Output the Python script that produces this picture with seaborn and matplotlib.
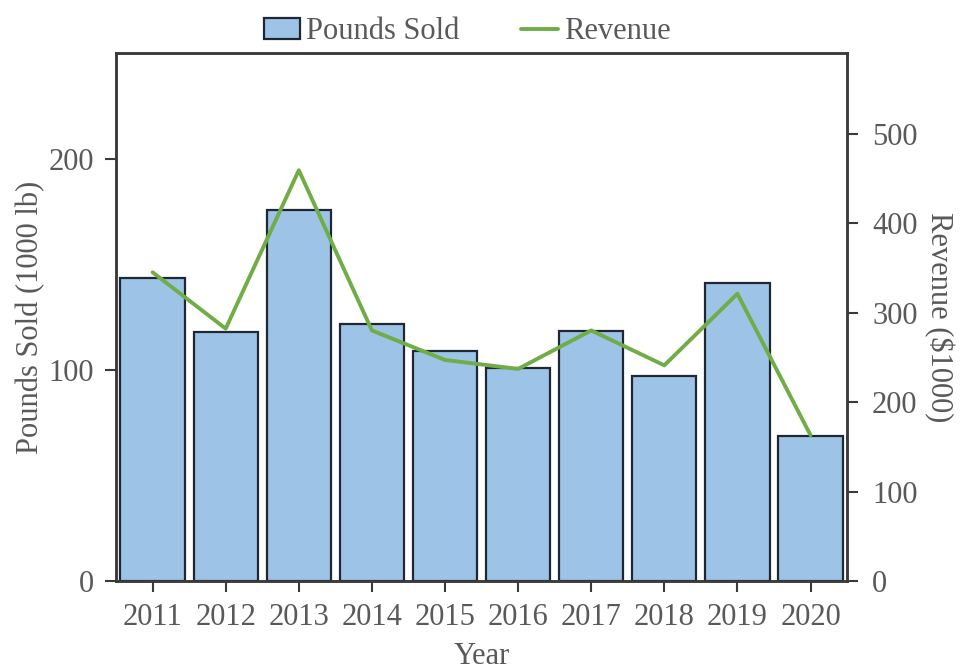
import matplotlib
matplotlib.use("Agg")
import matplotlib.pyplot as plt
import seaborn as sns
import pandas as pd
from matplotlib.patches import Patch
from matplotlib.lines import Line2D

years = ["2011", "2012", "2013", "2014", "2015", "2016", "2017", "2018", "2019", "2020"]
pounds_sold = [143.5, 118.0, 175.8, 121.7, 109.1, 100.8, 118.5, 97.0, 141.1, 68.7]
revenue = [345, 282, 459, 280, 247, 237, 280, 241, 321, 163]

df = pd.DataFrame({"Year": years, "Pounds": pounds_sold, "Revenue": revenue})

sns.set_theme(style="white")
plt.rcParams["font.family"] = ["Liberation Serif", "DejaVu Serif"]

TEXT = "#595959"
SPINE = "#3a3a3a"
BAR = "#9DC3E6"
BAR_EDGE = "#1e2733"
LINE = "#70AD47"
FS = 22

fig = plt.figure(figsize=(9.63, 6.72), dpi=100)
ax = fig.add_axes([0.1205, 0.1354, 0.7591, 0.7857])

sns.barplot(data=df, x="Year", y="Pounds", ax=ax, color=BAR, saturation=1,
            width=0.88, edgecolor=BAR_EDGE, linewidth=1.6)
ax2 = ax.twinx()
sns.pointplot(data=df, x="Year", y="Revenue", ax=ax2, color=LINE, markers="",
              linewidth=2.8)

ax.set_xlim(-0.5, 9.5)
ax.set_ylim(0, 250)
ax2.set_ylim(0, 590)
ax.set_yticks([0, 100, 200])
ax2.set_yticks([0, 100, 200, 300, 400, 500])

for a in (ax, ax2):
    for s in a.spines.values():
        s.set_color(SPINE)
        s.set_linewidth(1.8)
    a.tick_params(axis="both", which="both", direction="out", length=8, width=1.5,
                  colors=SPINE, labelcolor=TEXT, labelsize=FS, pad=6)
    a.grid(False)

ax.tick_params(axis="y", left=True, right=False, pad=8)
ax.tick_params(axis="x", bottom=True, pad=8)
ax2.tick_params(axis="y", right=True, left=False, pad=10)

ax.set_xlabel("Year", fontsize=FS, color=TEXT, labelpad=7)
ax.set_ylabel("Pounds Sold (1000 lb)", fontsize=FS, color=TEXT, labelpad=2)
ax2.set_ylabel("Revenue ($1000)", fontsize=FS, color=TEXT, rotation=270, labelpad=26)
ax2.set_xlabel("")

handles = [Patch(facecolor=BAR, edgecolor=BAR_EDGE, linewidth=1.6),
           Line2D([0], [0], color=LINE, linewidth=2.8)]
fig.legend(handles, ["Pounds Sold", "Revenue"], loc="upper center",
           bbox_to_anchor=(0.485, 1.015), ncol=2, frameon=False, fontsize=FS,
           labelcolor=TEXT, handlelength=1.2, handletextpad=0.2, columnspacing=2.0)

fig.savefig("out.png", dpi=100)
